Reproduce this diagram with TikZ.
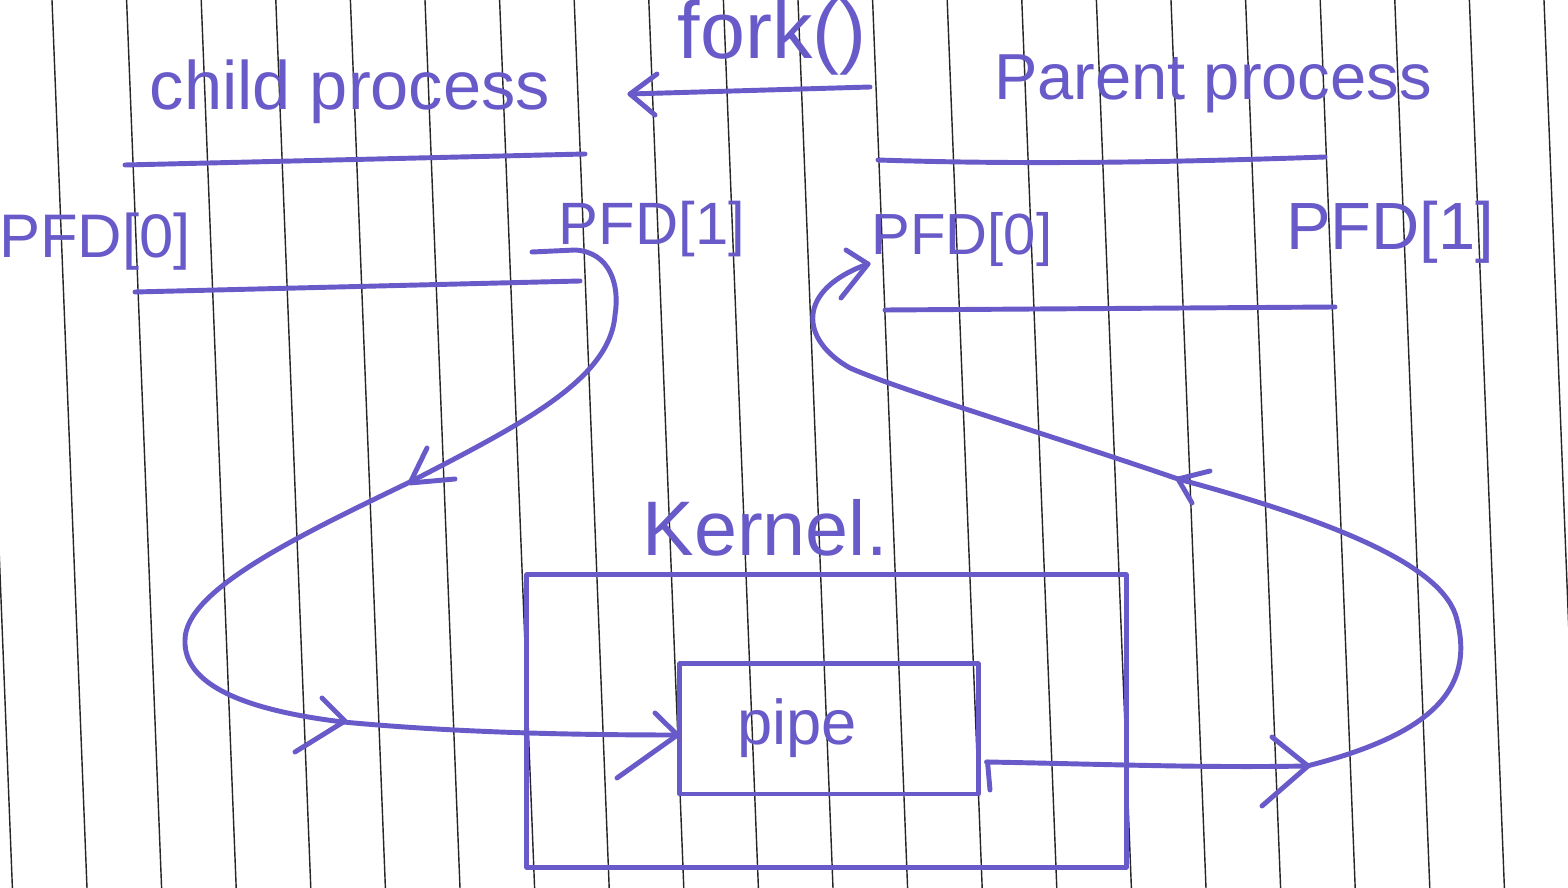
\documentclass[tikz,border=0pt]{standalone}
\usepackage{fontspec}
\setmainfont{Liberation Sans}
\usetikzlibrary{calc}
\definecolor{ink}{RGB}{104,90,200}
\begin{document}
\begin{tikzpicture}[x=0.01cm,y=-0.01cm,
  inkline/.style={draw=ink, line width=1.4pt, line cap=round, line join=round},
  paper/.style={draw=black!85, line width=0.4pt},
  txt/.style={text=ink, inner sep=0pt, anchor=center},
  boxnode/.style={draw=ink, line width=1.4pt, inner sep=0pt, line join=round},
]
\fill[white] (0,0) rectangle (1568,888);
\useasboundingbox (0,0) rectangle (1568,888);
% ruled paper
\foreach \k in {-1,0,...,20} \draw[paper] ({52+74.6*\k},0) -- ({87+74.6*\k},888);

% labels
\node[txt, font=\fontsize{23}{26}\selectfont] (forklbl) at (772,38) {fork()};
\node[txt, font=\fontsize{19.5}{22}\selectfont] (childlbl) at (350,92) {child process};
\node[txt, font=\fontsize{18.5}{22}\selectfont] (parentlbl) at (1213,84) {Parent process};
\node[txt, font=\fontsize{17.5}{20}\selectfont] (cpfd0) at (95,242) {PFD[0]};
\node[txt, font=\fontsize{17}{20}\selectfont] (cpfd1) at (652,229) {PFD[1]};
\node[txt, font=\fontsize{16.5}{20}\selectfont] (ppfd0) at (962,240) {PFD[0]};
\node[txt, font=\fontsize{19}{22}\selectfont] (ppfd1) at (1390,232) {PFD[1]};
\node[txt, font=\fontsize{22}{26}\selectfont] (kernellbl) at (765,528) {Kernel.};

% boxes
\node[boxnode, minimum width=5.99cm, minimum height=2.92cm] (kernel) at (826.5,721) {};
\node[boxnode, minimum width=2.98cm, minimum height=1.30cm] (pipe) at (829,729) {};
\node[txt, font=\fontsize{18}{22}\selectfont] (pipetxt) at (797,728) {pipe};

% process separator lines
\draw[inkline] (125,165) -- (585,154);
\draw[inkline] (135,292) -- (580,281);
\draw[inkline] (878,160) .. controls (1030,165) and (1180,162) .. (1325,157);
\draw[inkline] (885,310) -- (1335,307);

% fork arrow
\coordinate (forkR) at (870,87);
\coordinate (forkL) at (630,94);
\draw[inkline] (forkR) -- (forkL);
\draw[inkline] (657,74) -- (forkL) -- (655,115);

% child PFD[1] -> pipe
\coordinate (cstart) at (532,252);
\draw[inkline] (cstart) -- (575,250)
  .. controls (610,252) and (620,285) .. (615,315)
  .. controls (610,380) and (520,425) .. (410,482)
  .. controls (300,535) and (185,590) .. (185,640)
  .. controls (183,690) and (260,712) .. (343,722)
  .. controls (450,732) and (560,735) .. ($(pipe.west)+(0,6)$);
\draw[inkline] (427,448) -- (410,483) -- (455,479);
\draw[inkline] (322,698) -- (345,721) -- (295,752);
\draw[inkline] (655,713) -- ($(pipe.west)+(0,6)$) -- (617,778);

% pipe -> parent PFD[0]
\coordinate (pend) at (868,264);
\draw[inkline] ($(pipe.east)+(7,33)$) -- (990,790);
\draw[inkline] ($(pipe.east)+(6,33)$) .. controls (1100,764) and (1200,768) .. (1307,766)
  .. controls (1430,735) and (1475,690) .. (1457,620)
  .. controls (1445,565) and (1330,520) .. (1178,479)
  .. controls (1050,435) and (900,390) .. (850,368)
  .. controls (800,340) and (795,290) .. (pend);
\draw[inkline] (1272,737) -- (1308,766) -- (1262,806);
\draw[inkline] (1210,471) -- (1178,479) -- (1192,503);
\draw[inkline] (846,250) -- (pend) -- (841,298);
\end{tikzpicture}
\end{document}
